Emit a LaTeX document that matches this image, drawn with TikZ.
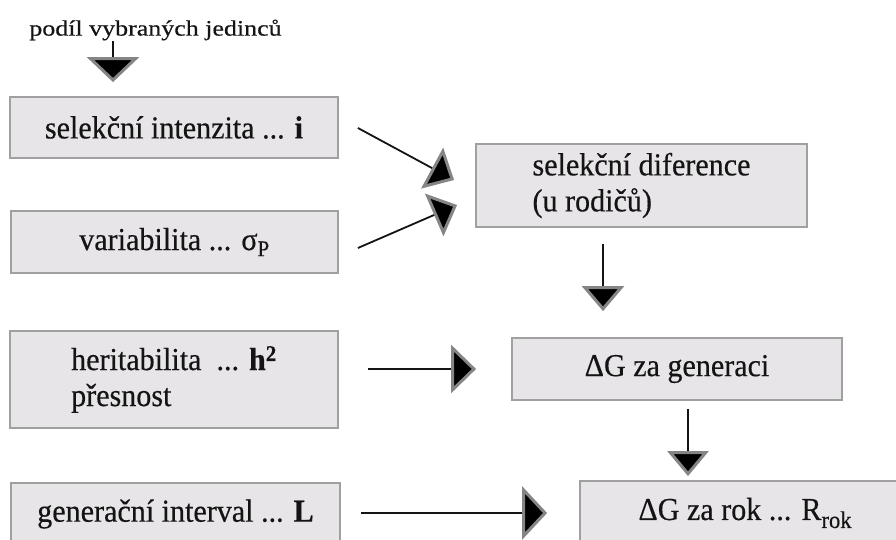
\documentclass[tikz,border=0pt]{standalone}
\usepackage{fontspec}
\setmainfont{Liberation Serif}[FakeStretch=0.94,FakeBold=0.4]
\newfontfamily\labfont{Liberation Serif}[FakeStretch=1.18,FakeBold=0.4]
\usetikzlibrary{arrows.meta,calc}
\definecolor{boxfill}{HTML}{E7E5E7}
\definecolor{boxline}{HTML}{A0A0A0}
\definecolor{txt}{HTML}{141414}
\definecolor{tipgray}{HTML}{858585}
\begin{document}
\begin{tikzpicture}[x=1pt,y=-1pt,
  box/.style={draw=boxline, line width=1.8pt, fill=boxfill, text=txt,
    font=\fontsize{32}{36}\selectfont, inner sep=0pt},
  arr/.style={line width=1.8pt, draw=txt,
    -{Triangle[length=25pt,width=#1,fill=black,color=tipgray,line width=3pt]}},
  arr/.default=48pt,
]
\useasboundingbox (0,0) rectangle (896,540);
\clip (0,0) rectangle (896,540);

\node[font=\labfont\fontsize{22}{26}\selectfont, text=txt, inner sep=0pt] (lab) at (155.5,30) {podíl vybraných jedinců};

\node[box, minimum width=328pt, minimum height=61pt] (si) at (174,127.5) {selekční intenzita ... \textbf{i}};
\node[box, minimum width=327pt, minimum height=62pt] (var) at (174.5,242) {variabilita ... σ\textsubscript{P}};
\node[box, align=left, minimum width=328pt, minimum height=97pt] (her) at (174,379.5) {heritabilita \ ... \textbf{h\textsuperscript{2}}\\přesnost};
\node[box, minimum width=329pt, minimum height=62pt] (gi) at (175.5,514) {generační interval ... \textbf{L}};

\node[box, align=left, minimum width=331pt, minimum height=83pt] (sd) at (641.5,185.5) {selekční diference\\(u rodičů)};
\node[box, minimum width=330pt, minimum height=62pt] (gg) at (677,369) {ΔG za generaci};
\node[box, minimum width=330pt, minimum height=64pt] (rk) at (745,513) {ΔG za rok ... R\raisebox{-0.25em}{\fontsize{24}{24}\selectfont rok}};

\coordinate (xa) at (113,0);
\coordinate (xb) at (603,0);
\coordinate (xc) at (688,0);

\draw[arr=52pt, shorten >=14pt] (lab.south -| xa) -- (si.north -| xa);
\draw[arr=46pt] ($(si.east)+(19,0.5)$) -- ($(sd.west)+(-21,-5.5)$);
\draw[arr=46pt] ($(var.east)+(19,6)$) -- ($(sd.west)+(-18,19.5)$);
\draw[arr=42pt, shorten <=16pt, shorten >=26pt] (sd.south -| xb) -- (gg.north -| xb);
\draw[arr=48pt] ($(her.east)+(29,-10.5)$) -- ($(gg.west)+(-35,0)$);
\draw[arr=41pt, shorten <=8pt, shorten >=4pt] (gg.south -| xc) -- (rk.north -| xc);
\draw[arr=53pt] ($(gi.east)+(20,-1)$) -- ($(rk.west)+(-32,0)$);
\end{tikzpicture}
\end{document}
